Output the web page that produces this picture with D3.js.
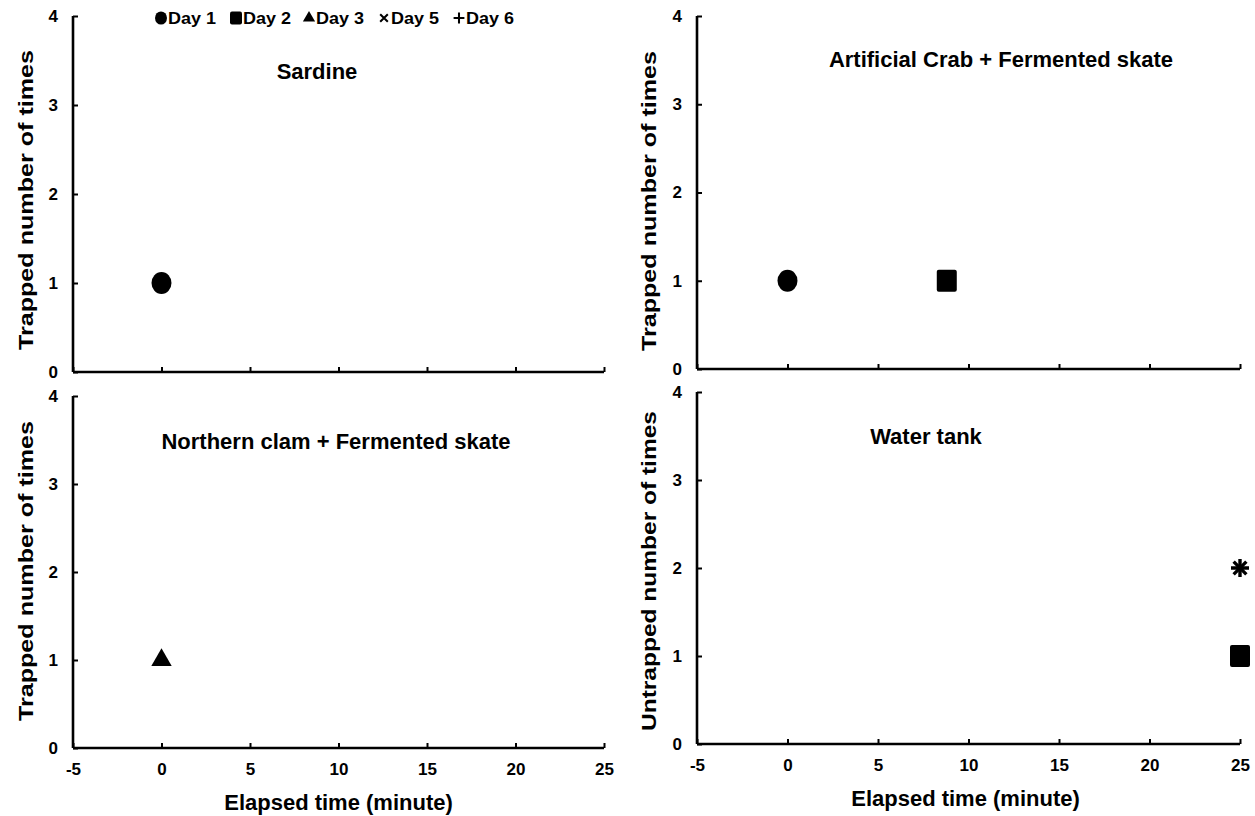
<!DOCTYPE html>
<html><head><meta charset="utf-8">
<script src="https://cdn.jsdelivr.net/npm/d3@7"></script>
<style>body{margin:0;background:#fff}text{font-family:"Liberation Sans",Arial,sans-serif;font-weight:bold}</style>
</head><body><svg id="c" width="1255" height="816"></svg>
<script>
const xTicks = [-5, 0, 5, 10, 15, 20, 25];
const yTicks = [0, 1, 2, 3, 4];
const legendDays = ["Day 1", "Day 2", "Day 3", "Day 5", "Day 6"];
const panelTitles = ["Sardine", "Artificial Crab + Fermented skate", "Northern clam + Fermented skate", "Water tank"];
const yTitles = ["Trapped number of times", "Trapped number of times", "Trapped number of times", "Untrapped number of times"];
// points per panel: [day, elapsed time, count]
const sardinePts = [["Day 1", 0, 1]];
const crabPts = [["Day 1", 0, 1], ["Day 2", 8.8, 1]];
const clamPts = [["Day 3", 0, 1]];
const tankPts = [["Day 2", 25, 1], ["Day 5", 25, 2], ["Day 6", 25, 2]];
const panelData = [sardinePts, crabPts, clamPts, tankPts];

const svg = d3.select("#c");
const panels = [
  {x0:73, x1:604, yT:16, yB:372, xLab:false, tx:317, ty:79, ytx:26, yty:200, ytl:300},
  {x0:697, x1:1240, yT:16, yB:369, xLab:false, tx:1001, ty:67, ytx:649, yty:201, ytl:300},
  {x0:73, x1:604, yT:396, yB:748, xLab:true, tx:336, ty:449, ytx:26, yty:571, ytl:300},
  {x0:697, x1:1240, yT:392, yB:744, xLab:true, tx:926, ty:444, ytx:649, yty:571, ytl:320}
];
const fmt = d => d < 0 ? "-" + Math.abs(d) : String(d);

function drawMarker(g, day, size) {
  if (day === "Day 5" || day === "Day 6") {
    const s = size * 0.45;
    const rot = day === "Day 5" ? 45 : 0;
    g.append("path").attr("d", `M${-s},0H${s}M0,${-s}V${s}`)
      .attr("stroke", "#000").attr("stroke-width", size * 0.17).attr("fill", "none")
      .attr("transform", `rotate(${rot})`);
  } else if (day === "Day 1") {
    g.append("ellipse").attr("rx", size * 0.5).attr("ry", size * 0.55).attr("fill", "#000");
  } else if (day === "Day 2") {
    g.append("rect").attr("x", -size * 0.5).attr("y", -size * 0.55).attr("width", size).attr("height", size * 1.1).attr("rx", 2).attr("fill", "#000");
  } else {
    g.append("path").attr("d", d3.symbol(d3.symbolTriangle, size * size * 0.45)()).attr("fill", "#000");
  }
}

panels.forEach((p, i) => {
  const x = d3.scaleLinear().domain([-5, 25]).range([p.x0, p.x1]);
  const y = d3.scaleLinear().domain([0, 4]).range([p.yB, p.yT]);
  const g = svg.append("g");
  const xa = g.append("g").attr("transform", `translate(0,${p.yB})`)
    .call(d3.axisBottom(x).tickValues(xTicks).tickSize(-5).tickPadding(15).tickFormat(p.xLab ? fmt : () => ""));
  const ya = g.append("g").attr("transform", `translate(${p.x0},0)`)
    .call(d3.axisLeft(y).tickValues(yTicks).tickSize(-5).tickPadding(15).tickFormat(fmt));
  [xa, ya].forEach(a => {
    a.select(".domain").attr("stroke", "#000").attr("stroke-width", 2.6);
    a.selectAll(".tick line").attr("stroke", "#000").attr("stroke-width", 2);
    a.selectAll(".tick text").attr("fill", "#000").style("font-size", "17px").style("font-family", "Liberation Sans, Arial").style("font-weight", "bold");
  });
  xa.select(".domain").attr("d", `M${p.x0},0H${p.x1}`);
  ya.select(".domain").attr("d", `M0,${p.yB}V${p.yT}`);
  // panel title
  g.append("text").attr("x", p.tx).attr("y", p.ty).attr("text-anchor", "middle").style("font-size", "22px").text(panelTitles[i]);
  // y title
  g.append("text").attr("transform", `translate(${p.ytx},${p.yty}) rotate(-90)`)
    .attr("text-anchor", "middle").attr("dy", "0.35em").style("font-size", "21px")
    .attr("textLength", p.ytl).attr("lengthAdjust", "spacingAndGlyphs").text(yTitles[i]);
  if (p.xLab) {
    g.append("text").attr("x", (p.x0 + p.x1) / 2 + (i === 3 ? -3 : 0)).attr("y", p.yB + 62).attr("text-anchor", "middle")
      .style("font-size", "22px").text("Elapsed time (minute)");
  }
  panelData[i].forEach(d => {
    const mg = g.append("g").attr("transform", `translate(${x(d[1])},${y(d[2])})`);
    drawMarker(mg, d[0], 20);
  });
});

// legend
const legX = [155, 230, 303, 378, 453];
legendDays.forEach((d, i) => {
  const lg = svg.append("g").attr("transform", `translate(${legX[i]},18)`);
  const mg = lg.append("g").attr("transform", "translate(6,0)");
  drawMarker(mg, d, 12);
  lg.append("text").attr("x", 13).attr("y", 0).attr("dy", "0.36em").style("font-size", "17px")
    .attr("textLength", 48).attr("lengthAdjust", "spacingAndGlyphs").text(d);
});
</script></body></html>
